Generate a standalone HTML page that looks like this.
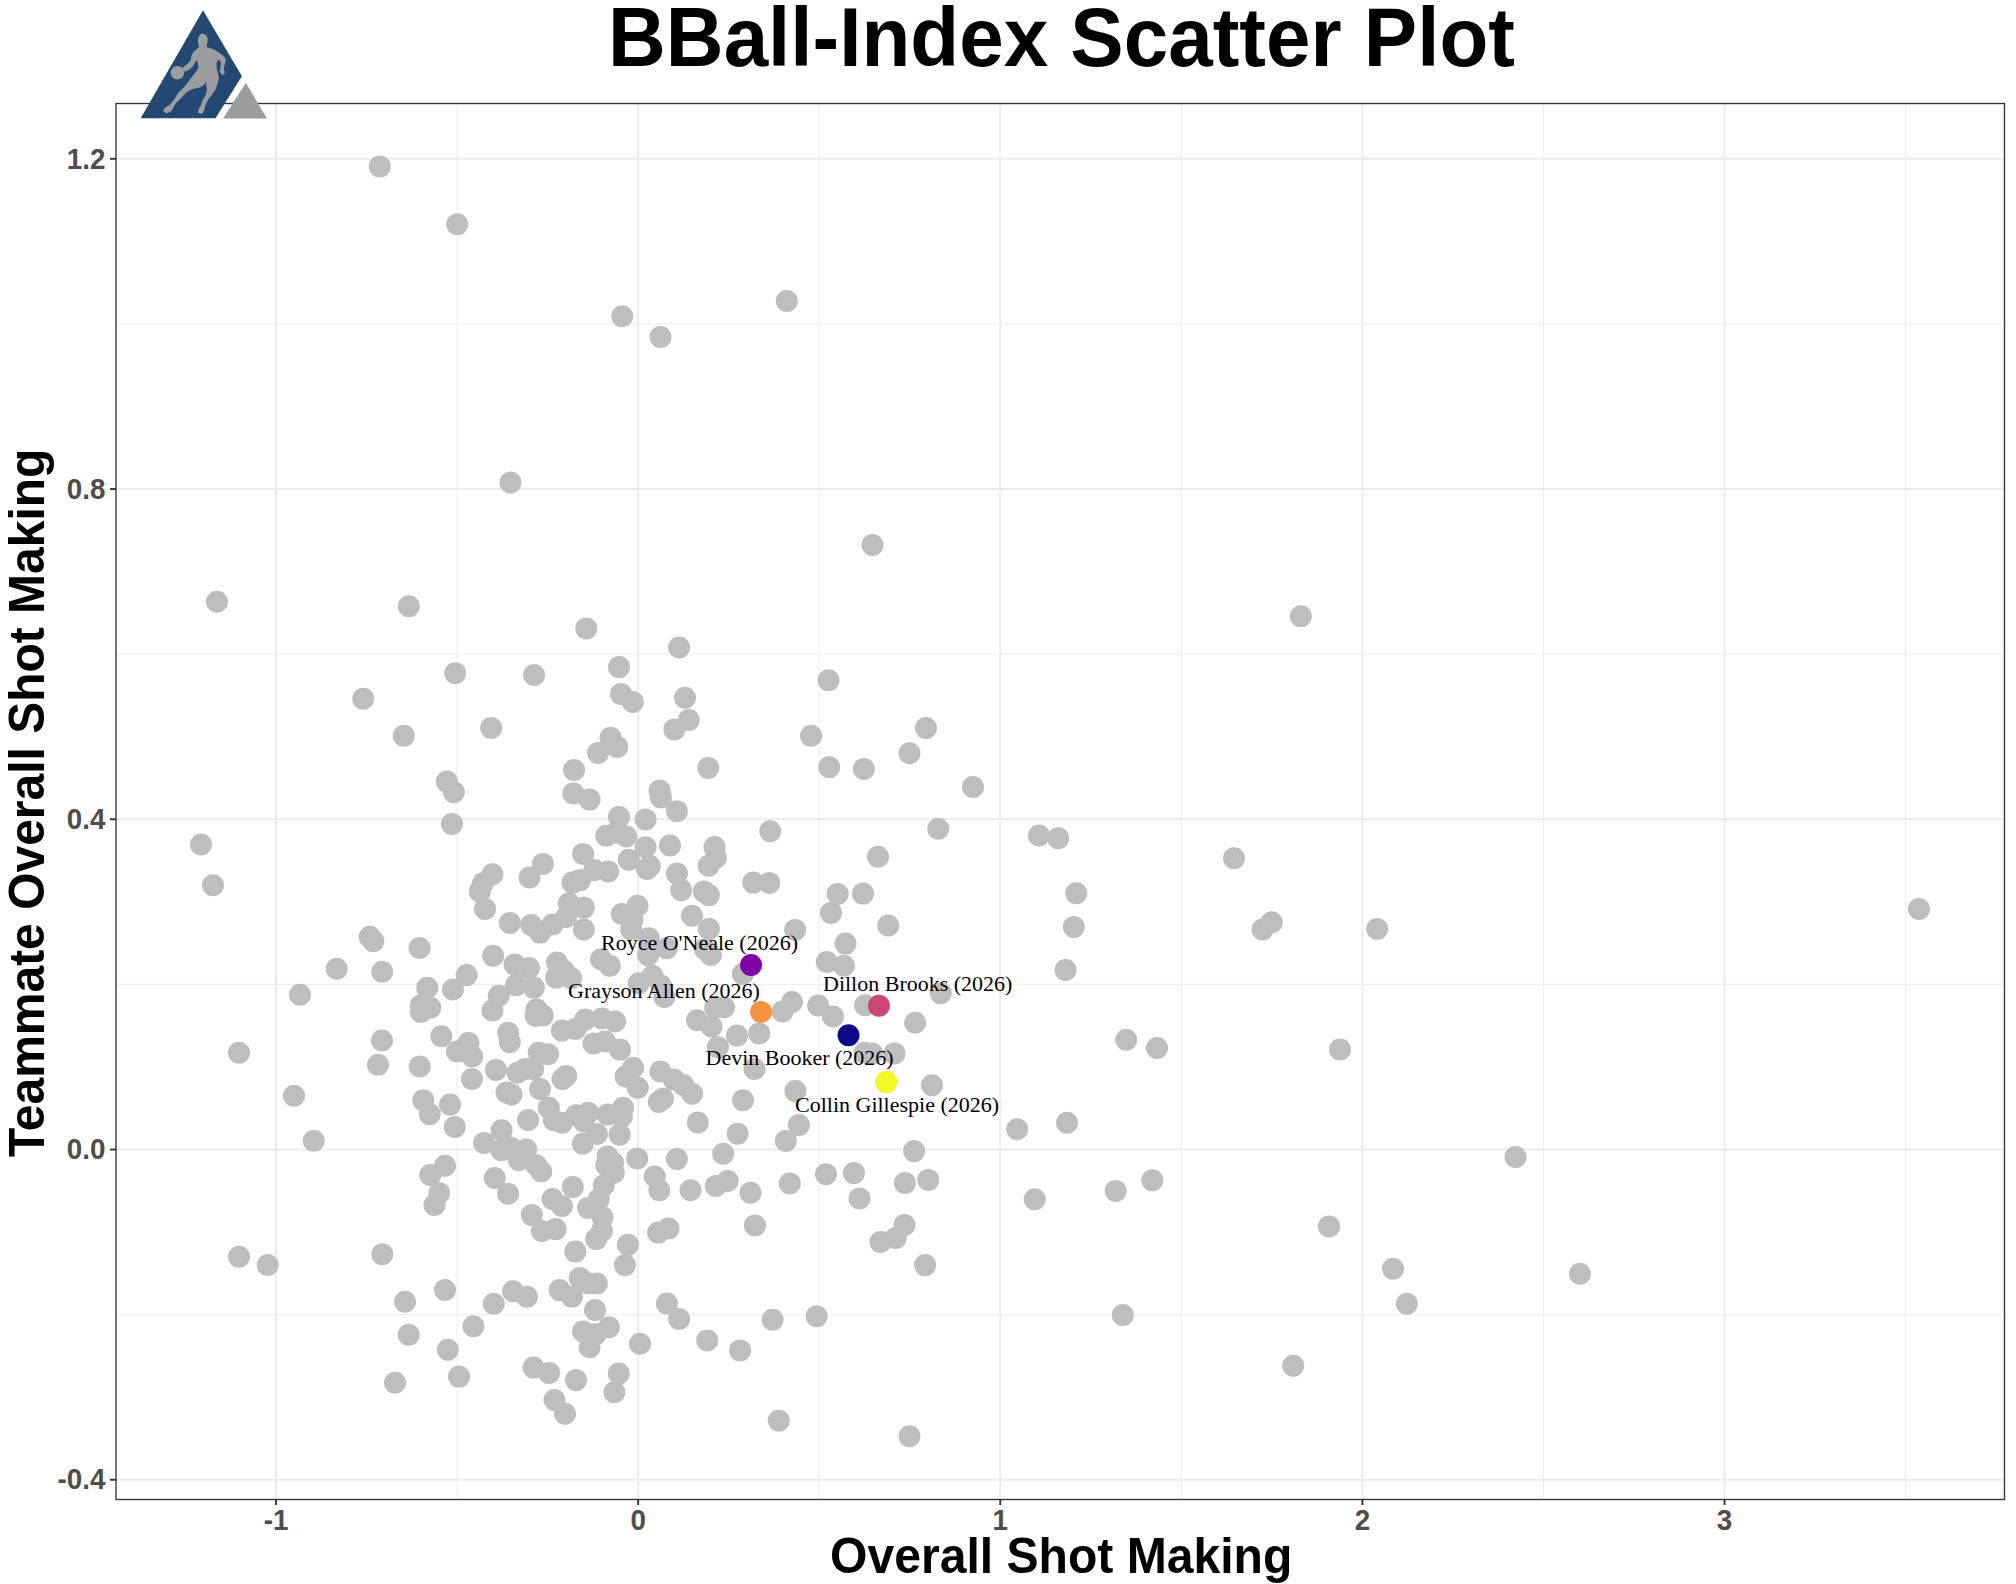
<!DOCTYPE html><html><head><meta charset="utf-8"><title>BBall-Index Scatter Plot</title>
<style>html,body{margin:0;padding:0;background:#fff}svg{display:block}.t{font-family:"Liberation Sans",Arial,sans-serif;font-weight:bold}.s{font-family:"Liberation Serif","Times New Roman",serif;font-size:22px;fill:#000}.k{font-family:"Liberation Sans",Arial,sans-serif;font-weight:bold;font-size:27.8px;fill:#4D4D4D}</style></head><body>
<svg width="2016" height="1584" viewBox="0 0 2016 1584">
<rect width="2016" height="1584" fill="#fff"/>
<g stroke="#EBEBEB" fill="none">
<line x1="457.06" x2="457.06" y1="103.5" y2="1499.5" stroke-width="0.95"/>
<line x1="819.19" x2="819.19" y1="103.5" y2="1499.5" stroke-width="0.95"/>
<line x1="1181.32" x2="1181.32" y1="103.5" y2="1499.5" stroke-width="0.95"/>
<line x1="1543.45" x2="1543.45" y1="103.5" y2="1499.5" stroke-width="0.95"/>
<line x1="1905.59" x2="1905.59" y1="103.5" y2="1499.5" stroke-width="0.95"/>
<line y1="323.92" y2="323.92" x1="116.0" x2="2004.5" stroke-width="0.95"/>
<line y1="654.16" y2="654.16" x1="116.0" x2="2004.5" stroke-width="0.95"/>
<line y1="984.40" y2="984.40" x1="116.0" x2="2004.5" stroke-width="0.95"/>
<line y1="1314.64" y2="1314.64" x1="116.0" x2="2004.5" stroke-width="0.95"/>
<line x1="276.00" x2="276.00" y1="103.5" y2="1499.5" stroke-width="1.9"/>
<line x1="638.13" x2="638.13" y1="103.5" y2="1499.5" stroke-width="1.9"/>
<line x1="1000.26" x2="1000.26" y1="103.5" y2="1499.5" stroke-width="1.9"/>
<line x1="1362.39" x2="1362.39" y1="103.5" y2="1499.5" stroke-width="1.9"/>
<line x1="1724.52" x2="1724.52" y1="103.5" y2="1499.5" stroke-width="1.9"/>
<line y1="158.80" y2="158.80" x1="116.0" x2="2004.5" stroke-width="1.9"/>
<line y1="489.04" y2="489.04" x1="116.0" x2="2004.5" stroke-width="1.9"/>
<line y1="819.28" y2="819.28" x1="116.0" x2="2004.5" stroke-width="1.9"/>
<line y1="1149.52" y2="1149.52" x1="116.0" x2="2004.5" stroke-width="1.9"/>
<line y1="1479.76" y2="1479.76" x1="116.0" x2="2004.5" stroke-width="1.9"/>
</g>
<g fill="#BEBEBE">
<circle cx="379.8" cy="166.5" r="11"/>
<circle cx="457.2" cy="224.2" r="11"/>
<circle cx="510.5" cy="482.5" r="11"/>
<circle cx="622.2" cy="316.2" r="11"/>
<circle cx="660.5" cy="337.0" r="11"/>
<circle cx="786.8" cy="301.0" r="11"/>
<circle cx="217.0" cy="601.8" r="11"/>
<circle cx="408.8" cy="606.2" r="11"/>
<circle cx="586.2" cy="628.4" r="11"/>
<circle cx="455.2" cy="673.2" r="11"/>
<circle cx="534.1" cy="675.0" r="11"/>
<circle cx="363.2" cy="698.8" r="11"/>
<circle cx="403.8" cy="735.8" r="11"/>
<circle cx="491.2" cy="728.0" r="11"/>
<circle cx="446.9" cy="781.6" r="11"/>
<circle cx="453.8" cy="792.1" r="11"/>
<circle cx="452.0" cy="824.0" r="11"/>
<circle cx="574.1" cy="770.0" r="11"/>
<circle cx="573.4" cy="793.4" r="11"/>
<circle cx="589.6" cy="799.6" r="11"/>
<circle cx="598.1" cy="752.9" r="11"/>
<circle cx="610.6" cy="737.8" r="11"/>
<circle cx="201.0" cy="844.5" r="11"/>
<circle cx="213.0" cy="885.2" r="11"/>
<circle cx="679.1" cy="647.5" r="11"/>
<circle cx="619.0" cy="667.1" r="11"/>
<circle cx="621.0" cy="693.9" r="11"/>
<circle cx="632.8" cy="701.9" r="11"/>
<circle cx="685.0" cy="697.8" r="11"/>
<circle cx="617.2" cy="746.9" r="11"/>
<circle cx="674.4" cy="729.4" r="11"/>
<circle cx="688.8" cy="720.0" r="11"/>
<circle cx="659.6" cy="790.6" r="11"/>
<circle cx="661.0" cy="797.5" r="11"/>
<circle cx="676.9" cy="811.2" r="11"/>
<circle cx="619.0" cy="816.9" r="11"/>
<circle cx="645.6" cy="819.4" r="11"/>
<circle cx="872.5" cy="545.0" r="11"/>
<circle cx="828.5" cy="680.2" r="11"/>
<circle cx="811.0" cy="735.8" r="11"/>
<circle cx="926.0" cy="728.0" r="11"/>
<circle cx="909.5" cy="753.2" r="11"/>
<circle cx="829.2" cy="767.2" r="11"/>
<circle cx="863.8" cy="769.0" r="11"/>
<circle cx="708.2" cy="768.0" r="11"/>
<circle cx="973.0" cy="787.0" r="11"/>
<circle cx="770.2" cy="831.2" r="11"/>
<circle cx="938.2" cy="828.8" r="11"/>
<circle cx="1039.0" cy="835.5" r="11"/>
<circle cx="1058.2" cy="838.2" r="11"/>
<circle cx="878.0" cy="856.8" r="11"/>
<circle cx="1300.8" cy="616.2" r="11"/>
<circle cx="1234.0" cy="858.2" r="11"/>
<circle cx="606.2" cy="835.8" r="11"/>
<circle cx="626.2" cy="836.4" r="11"/>
<circle cx="645.6" cy="847.2" r="11"/>
<circle cx="670.0" cy="845.5" r="11"/>
<circle cx="628.8" cy="859.8" r="11"/>
<circle cx="583.1" cy="853.9" r="11"/>
<circle cx="649.8" cy="866.0" r="11"/>
<circle cx="646.9" cy="868.9" r="11"/>
<circle cx="676.9" cy="873.6" r="11"/>
<circle cx="681.2" cy="890.1" r="11"/>
<circle cx="542.9" cy="863.9" r="11"/>
<circle cx="529.5" cy="877.5" r="11"/>
<circle cx="492.5" cy="874.2" r="11"/>
<circle cx="483.1" cy="883.2" r="11"/>
<circle cx="479.8" cy="891.4" r="11"/>
<circle cx="485.0" cy="908.9" r="11"/>
<circle cx="594.4" cy="870.1" r="11"/>
<circle cx="608.1" cy="871.4" r="11"/>
<circle cx="580.0" cy="880.1" r="11"/>
<circle cx="572.5" cy="882.6" r="11"/>
<circle cx="568.8" cy="903.2" r="11"/>
<circle cx="583.8" cy="907.6" r="11"/>
<circle cx="583.8" cy="929.5" r="11"/>
<circle cx="566.2" cy="917.0" r="11"/>
<circle cx="552.5" cy="924.5" r="11"/>
<circle cx="540.0" cy="932.6" r="11"/>
<circle cx="531.2" cy="925.1" r="11"/>
<circle cx="509.8" cy="922.9" r="11"/>
<circle cx="637.5" cy="905.8" r="11"/>
<circle cx="621.9" cy="913.9" r="11"/>
<circle cx="632.5" cy="919.5" r="11"/>
<circle cx="631.2" cy="929.5" r="11"/>
<circle cx="648.8" cy="938.2" r="11"/>
<circle cx="692.0" cy="915.8" r="11"/>
<circle cx="493.1" cy="955.8" r="11"/>
<circle cx="514.6" cy="964.5" r="11"/>
<circle cx="529.0" cy="968.0" r="11"/>
<circle cx="516.0" cy="985.1" r="11"/>
<circle cx="533.8" cy="987.6" r="11"/>
<circle cx="556.9" cy="962.6" r="11"/>
<circle cx="563.8" cy="970.8" r="11"/>
<circle cx="556.2" cy="977.6" r="11"/>
<circle cx="571.2" cy="978.2" r="11"/>
<circle cx="466.6" cy="975.1" r="11"/>
<circle cx="452.9" cy="989.5" r="11"/>
<circle cx="498.8" cy="995.8" r="11"/>
<circle cx="601.0" cy="959.2" r="11"/>
<circle cx="609.8" cy="965.8" r="11"/>
<circle cx="648.1" cy="955.1" r="11"/>
<circle cx="666.9" cy="948.2" r="11"/>
<circle cx="652.5" cy="975.8" r="11"/>
<circle cx="638.8" cy="983.2" r="11"/>
<circle cx="661.2" cy="985.8" r="11"/>
<circle cx="664.4" cy="997.0" r="11"/>
<circle cx="714.5" cy="847.0" r="11"/>
<circle cx="715.8" cy="857.6" r="11"/>
<circle cx="708.6" cy="865.8" r="11"/>
<circle cx="753.2" cy="882.6" r="11"/>
<circle cx="769.2" cy="882.9" r="11"/>
<circle cx="703.9" cy="891.4" r="11"/>
<circle cx="708.9" cy="895.1" r="11"/>
<circle cx="837.6" cy="893.9" r="11"/>
<circle cx="863.0" cy="893.6" r="11"/>
<circle cx="831.0" cy="912.9" r="11"/>
<circle cx="708.9" cy="928.9" r="11"/>
<circle cx="795.1" cy="929.9" r="11"/>
<circle cx="888.2" cy="925.5" r="11"/>
<circle cx="845.5" cy="943.6" r="11"/>
<circle cx="826.8" cy="962.0" r="11"/>
<circle cx="843.9" cy="965.8" r="11"/>
<circle cx="705.0" cy="949.2" r="11"/>
<circle cx="710.8" cy="955.0" r="11"/>
<circle cx="742.8" cy="974.0" r="11"/>
<circle cx="940.8" cy="993.2" r="11"/>
<circle cx="818.2" cy="1005.5" r="11"/>
<circle cx="792.0" cy="1002.0" r="11"/>
<circle cx="782.6" cy="1011.5" r="11"/>
<circle cx="715.2" cy="1007.5" r="11"/>
<circle cx="724.0" cy="1007.5" r="11"/>
<circle cx="865.1" cy="1005.2" r="11"/>
<circle cx="369.7" cy="936.7" r="11"/>
<circle cx="373.3" cy="941.3" r="11"/>
<circle cx="419.5" cy="948.0" r="11"/>
<circle cx="336.7" cy="968.8" r="11"/>
<circle cx="382.2" cy="971.8" r="11"/>
<circle cx="300.0" cy="994.7" r="11"/>
<circle cx="427.2" cy="987.7" r="11"/>
<circle cx="420.8" cy="1005.3" r="11"/>
<circle cx="430.3" cy="1007.8" r="11"/>
<circle cx="420.8" cy="1012.0" r="11"/>
<circle cx="441.3" cy="1036.3" r="11"/>
<circle cx="382.0" cy="1040.5" r="11"/>
<circle cx="239.0" cy="1052.7" r="11"/>
<circle cx="378.0" cy="1064.7" r="11"/>
<circle cx="419.7" cy="1066.5" r="11"/>
<circle cx="294.0" cy="1095.7" r="11"/>
<circle cx="423.3" cy="1100.3" r="11"/>
<circle cx="429.7" cy="1114.2" r="11"/>
<circle cx="313.7" cy="1140.7" r="11"/>
<circle cx="239.0" cy="1256.7" r="11"/>
<circle cx="267.7" cy="1265.0" r="11"/>
<circle cx="382.3" cy="1254.3" r="11"/>
<circle cx="405.0" cy="1301.8" r="11"/>
<circle cx="408.7" cy="1334.8" r="11"/>
<circle cx="395.0" cy="1382.8" r="11"/>
<circle cx="430.3" cy="1175.0" r="11"/>
<circle cx="445.0" cy="1165.8" r="11"/>
<circle cx="439.2" cy="1193.3" r="11"/>
<circle cx="434.5" cy="1205.0" r="11"/>
<circle cx="445.0" cy="1290.0" r="11"/>
<circle cx="447.8" cy="1349.8" r="11"/>
<circle cx="492.5" cy="1010.5" r="11"/>
<circle cx="535.6" cy="1015.9" r="11"/>
<circle cx="542.8" cy="1015.5" r="11"/>
<circle cx="561.9" cy="1030.6" r="11"/>
<circle cx="575.6" cy="1029.0" r="11"/>
<circle cx="585.0" cy="1019.6" r="11"/>
<circle cx="601.9" cy="1018.4" r="11"/>
<circle cx="615.0" cy="1021.5" r="11"/>
<circle cx="508.1" cy="1032.8" r="11"/>
<circle cx="509.8" cy="1042.1" r="11"/>
<circle cx="456.9" cy="1051.5" r="11"/>
<circle cx="468.5" cy="1043.0" r="11"/>
<circle cx="472.2" cy="1056.5" r="11"/>
<circle cx="471.9" cy="1079.0" r="11"/>
<circle cx="496.0" cy="1069.9" r="11"/>
<circle cx="538.8" cy="1052.8" r="11"/>
<circle cx="548.1" cy="1054.2" r="11"/>
<circle cx="593.5" cy="1043.4" r="11"/>
<circle cx="605.0" cy="1041.5" r="11"/>
<circle cx="620.0" cy="1049.6" r="11"/>
<circle cx="517.5" cy="1072.8" r="11"/>
<circle cx="525.0" cy="1069.0" r="11"/>
<circle cx="533.1" cy="1069.0" r="11"/>
<circle cx="566.2" cy="1075.9" r="11"/>
<circle cx="562.5" cy="1079.0" r="11"/>
<circle cx="506.5" cy="1092.5" r="11"/>
<circle cx="511.5" cy="1094.5" r="11"/>
<circle cx="616.5" cy="832.6" r="11"/>
<circle cx="536.5" cy="1009.5" r="11"/>
<circle cx="540.0" cy="1089.0" r="11"/>
<circle cx="633.1" cy="1067.8" r="11"/>
<circle cx="625.6" cy="1076.5" r="11"/>
<circle cx="637.8" cy="1087.8" r="11"/>
<circle cx="660.4" cy="1071.5" r="11"/>
<circle cx="673.8" cy="1079.6" r="11"/>
<circle cx="683.3" cy="1085.0" r="11"/>
<circle cx="692.1" cy="1093.8" r="11"/>
<circle cx="662.9" cy="1098.8" r="11"/>
<circle cx="658.8" cy="1102.0" r="11"/>
<circle cx="450.0" cy="1104.6" r="11"/>
<circle cx="454.8" cy="1126.9" r="11"/>
<circle cx="548.8" cy="1107.8" r="11"/>
<circle cx="553.8" cy="1120.2" r="11"/>
<circle cx="561.9" cy="1122.8" r="11"/>
<circle cx="576.2" cy="1115.2" r="11"/>
<circle cx="588.1" cy="1112.8" r="11"/>
<circle cx="583.8" cy="1121.5" r="11"/>
<circle cx="607.5" cy="1114.6" r="11"/>
<circle cx="623.1" cy="1107.8" r="11"/>
<circle cx="621.9" cy="1116.5" r="11"/>
<circle cx="528.1" cy="1120.0" r="11"/>
<circle cx="596.9" cy="1134.0" r="11"/>
<circle cx="619.6" cy="1134.6" r="11"/>
<circle cx="582.8" cy="1143.8" r="11"/>
<circle cx="501.6" cy="1130.2" r="11"/>
<circle cx="484.0" cy="1143.0" r="11"/>
<circle cx="501.2" cy="1150.2" r="11"/>
<circle cx="511.2" cy="1147.8" r="11"/>
<circle cx="526.2" cy="1149.6" r="11"/>
<circle cx="518.8" cy="1160.2" r="11"/>
<circle cx="536.2" cy="1165.2" r="11"/>
<circle cx="541.2" cy="1171.5" r="11"/>
<circle cx="607.5" cy="1156.5" r="11"/>
<circle cx="613.1" cy="1162.8" r="11"/>
<circle cx="606.2" cy="1165.2" r="11"/>
<circle cx="613.8" cy="1172.8" r="11"/>
<circle cx="603.8" cy="1185.2" r="11"/>
<circle cx="637.2" cy="1158.4" r="11"/>
<circle cx="676.9" cy="1159.0" r="11"/>
<circle cx="654.8" cy="1176.5" r="11"/>
<circle cx="659.4" cy="1190.2" r="11"/>
<circle cx="690.5" cy="1190.2" r="11"/>
<circle cx="494.8" cy="1178.0" r="11"/>
<circle cx="508.1" cy="1193.8" r="11"/>
<circle cx="572.8" cy="1186.9" r="11"/>
<circle cx="552.5" cy="1199.0" r="11"/>
<circle cx="598.8" cy="1199.0" r="11"/>
<circle cx="915.1" cy="1022.8" r="11"/>
<circle cx="833.0" cy="1016.5" r="11"/>
<circle cx="697.0" cy="1020.2" r="11"/>
<circle cx="711.5" cy="1026.5" r="11"/>
<circle cx="737.0" cy="1035.6" r="11"/>
<circle cx="759.2" cy="1033.4" r="11"/>
<circle cx="717.9" cy="1047.1" r="11"/>
<circle cx="754.5" cy="1069.0" r="11"/>
<circle cx="864.5" cy="1052.8" r="11"/>
<circle cx="872.0" cy="1053.4" r="11"/>
<circle cx="894.5" cy="1053.4" r="11"/>
<circle cx="932.0" cy="1085.2" r="11"/>
<circle cx="795.4" cy="1091.1" r="11"/>
<circle cx="743.0" cy="1100.2" r="11"/>
<circle cx="697.8" cy="1122.4" r="11"/>
<circle cx="737.6" cy="1133.8" r="11"/>
<circle cx="798.9" cy="1125.0" r="11"/>
<circle cx="785.8" cy="1140.9" r="11"/>
<circle cx="723.2" cy="1153.8" r="11"/>
<circle cx="914.1" cy="1151.1" r="11"/>
<circle cx="826.0" cy="1174.2" r="11"/>
<circle cx="853.9" cy="1173.1" r="11"/>
<circle cx="904.9" cy="1183.0" r="11"/>
<circle cx="928.2" cy="1179.9" r="11"/>
<circle cx="859.5" cy="1198.4" r="11"/>
<circle cx="789.8" cy="1183.4" r="11"/>
<circle cx="727.6" cy="1180.9" r="11"/>
<circle cx="715.8" cy="1185.9" r="11"/>
<circle cx="750.5" cy="1192.8" r="11"/>
<circle cx="531.9" cy="1215.1" r="11"/>
<circle cx="561.9" cy="1206.0" r="11"/>
<circle cx="541.9" cy="1231.0" r="11"/>
<circle cx="555.6" cy="1229.1" r="11"/>
<circle cx="588.1" cy="1207.9" r="11"/>
<circle cx="602.5" cy="1217.2" r="11"/>
<circle cx="601.9" cy="1231.0" r="11"/>
<circle cx="596.2" cy="1239.1" r="11"/>
<circle cx="575.4" cy="1251.6" r="11"/>
<circle cx="627.9" cy="1244.8" r="11"/>
<circle cx="625.0" cy="1265.1" r="11"/>
<circle cx="658.1" cy="1232.6" r="11"/>
<circle cx="668.5" cy="1228.5" r="11"/>
<circle cx="493.8" cy="1303.8" r="11"/>
<circle cx="513.1" cy="1291.2" r="11"/>
<circle cx="526.9" cy="1296.8" r="11"/>
<circle cx="559.6" cy="1290.1" r="11"/>
<circle cx="571.9" cy="1296.6" r="11"/>
<circle cx="579.8" cy="1277.9" r="11"/>
<circle cx="588.8" cy="1283.5" r="11"/>
<circle cx="596.9" cy="1283.5" r="11"/>
<circle cx="595.0" cy="1310.0" r="11"/>
<circle cx="608.8" cy="1327.2" r="11"/>
<circle cx="583.1" cy="1331.4" r="11"/>
<circle cx="595.6" cy="1334.1" r="11"/>
<circle cx="589.6" cy="1347.2" r="11"/>
<circle cx="473.4" cy="1326.2" r="11"/>
<circle cx="459.0" cy="1376.6" r="11"/>
<circle cx="640.0" cy="1343.8" r="11"/>
<circle cx="666.9" cy="1303.5" r="11"/>
<circle cx="679.1" cy="1318.9" r="11"/>
<circle cx="533.5" cy="1367.6" r="11"/>
<circle cx="549.0" cy="1372.9" r="11"/>
<circle cx="576.0" cy="1380.1" r="11"/>
<circle cx="618.8" cy="1373.5" r="11"/>
<circle cx="614.4" cy="1392.2" r="11"/>
<circle cx="554.5" cy="1400.0" r="11"/>
<circle cx="565.0" cy="1413.7" r="11"/>
<circle cx="754.9" cy="1225.4" r="11"/>
<circle cx="904.5" cy="1225.0" r="11"/>
<circle cx="895.8" cy="1237.9" r="11"/>
<circle cx="880.5" cy="1242.0" r="11"/>
<circle cx="925.1" cy="1265.1" r="11"/>
<circle cx="772.6" cy="1319.8" r="11"/>
<circle cx="816.6" cy="1316.2" r="11"/>
<circle cx="707.2" cy="1340.4" r="11"/>
<circle cx="740.1" cy="1350.4" r="11"/>
<circle cx="778.8" cy="1420.7" r="11"/>
<circle cx="909.5" cy="1436.3" r="11"/>
<circle cx="1076.3" cy="893.3" r="11"/>
<circle cx="1073.8" cy="927.0" r="11"/>
<circle cx="1065.5" cy="970.0" r="11"/>
<circle cx="1126.2" cy="1039.7" r="11"/>
<circle cx="1157.0" cy="1048.0" r="11"/>
<circle cx="1017.2" cy="1129.2" r="11"/>
<circle cx="1067.0" cy="1122.7" r="11"/>
<circle cx="1034.7" cy="1199.3" r="11"/>
<circle cx="1115.7" cy="1191.0" r="11"/>
<circle cx="1152.3" cy="1180.3" r="11"/>
<circle cx="1122.8" cy="1315.0" r="11"/>
<circle cx="1271.8" cy="922.2" r="11"/>
<circle cx="1262.5" cy="929.5" r="11"/>
<circle cx="1377.2" cy="929.0" r="11"/>
<circle cx="1340.0" cy="1049.5" r="11"/>
<circle cx="1515.5" cy="1157.0" r="11"/>
<circle cx="1329.0" cy="1226.4" r="11"/>
<circle cx="1393.0" cy="1268.8" r="11"/>
<circle cx="1580.0" cy="1273.8" r="11"/>
<circle cx="1406.8" cy="1303.8" r="11"/>
<circle cx="1293.2" cy="1365.8" r="11"/>
<circle cx="1919.0" cy="909.0" r="11"/>
</g>
<circle cx="848.5" cy="1035.2" r="11" fill="#0D0887"/>
<circle cx="751.0" cy="965.0" r="11" fill="#7E03A8"/>
<circle cx="878.9" cy="1005.8" r="11" fill="#CC4678"/>
<circle cx="761.0" cy="1012.0" r="11" fill="#F89441"/>
<circle cx="886.0" cy="1082.1" r="11" fill="#F0F921"/>
<text class="s" x="601" y="950.3">Royce O'Neale (2026)</text>
<text class="s" x="568" y="997.8">Grayson Allen (2026)</text>
<text class="s" x="823" y="990.8">Dillon Brooks (2026)</text>
<text class="s" x="705.5" y="1064.9">Devin Booker (2026)</text>
<text class="s" x="795" y="1111.8">Collin Gillespie (2026)</text>
<rect x="116.0" y="103.5" width="1888.5" height="1396.0" fill="none" stroke="#333" stroke-width="1.35"/>
<g stroke="#333" stroke-width="1.9">
<line x1="276.00" x2="276.00" y1="1499.5" y2="1505.0"/>
<line x1="638.13" x2="638.13" y1="1499.5" y2="1505.0"/>
<line x1="1000.26" x2="1000.26" y1="1499.5" y2="1505.0"/>
<line x1="1362.39" x2="1362.39" y1="1499.5" y2="1505.0"/>
<line x1="1724.52" x2="1724.52" y1="1499.5" y2="1505.0"/>
<line y1="158.80" y2="158.80" x1="110.0" x2="116.0"/>
<line y1="489.04" y2="489.04" x1="110.0" x2="116.0"/>
<line y1="819.28" y2="819.28" x1="110.0" x2="116.0"/>
<line y1="1149.52" y2="1149.52" x1="110.0" x2="116.0"/>
<line y1="1479.76" y2="1479.76" x1="110.0" x2="116.0"/>
</g>
<text class="k" text-anchor="middle" transform="translate(276.00,1529.9) scale(1,1.05)">-1</text>
<text class="k" text-anchor="middle" transform="translate(638.13,1529.9) scale(1,1.05)">0</text>
<text class="k" text-anchor="middle" transform="translate(1000.26,1529.9) scale(1,1.05)">1</text>
<text class="k" text-anchor="middle" transform="translate(1362.39,1529.9) scale(1,1.05)">2</text>
<text class="k" text-anchor="middle" transform="translate(1724.52,1529.9) scale(1,1.05)">3</text>
<text class="k" text-anchor="end" transform="translate(105.4,168.50) scale(1,1.05)">1.2</text>
<text class="k" text-anchor="end" transform="translate(105.4,498.74) scale(1,1.05)">0.8</text>
<text class="k" text-anchor="end" transform="translate(105.4,828.98) scale(1,1.05)">0.4</text>
<text class="k" text-anchor="end" transform="translate(105.4,1159.22) scale(1,1.05)">0.0</text>
<text class="k" text-anchor="end" transform="translate(105.4,1489.46) scale(1,1.05)">-0.4</text>
<text class="t" font-size="80" transform="translate(1061.5,66.3) scale(1,1.035)" text-anchor="middle">BBall-Index Scatter Plot</text>
<text class="t" font-size="48.1" transform="translate(1061.2,1573) scale(1,1.03)" text-anchor="middle">Overall Shot Making</text>
<text class="t" font-size="48" transform="translate(44.1,802.8) rotate(-90) scale(1,1.035)" text-anchor="middle">Teammate Overall Shot Making</text>
<g transform="translate(130,0) scale(0.07891)">
<polygon points="925,130 1418,965 1083,1498 135,1498" fill="#234873"/>
<polygon points="1468,1050 1735,1503 1180,1503" fill="#9C9D9F"/>
<g fill="#9C9D9F"><circle cx="600" cy="922" r="86"/>
<path d="M920,428 C955,430 980,455 985,500 C988,540 975,560 970,575 L975,600 C1010,610 1040,615 1060,625 L1130,670 L1195,715 C1212,735 1212,760 1208,790 L1192,855 L1186,880 L1202,915 L1190,948 L1160,940 L1135,905 L1148,860 L1152,780 L1112,758 L1096,800 L1100,880 L1120,940 L1126,990 L1110,1060 L1080,1140 L1040,1200 L990,1262 L960,1320 L942,1390 L925,1432 L890,1446 L862,1422 L870,1380 L900,1330 L920,1270 L962,1200 L974,1130 L966,1080 L968,1040 L930,1082 L880,1110 L780,1130 L712,1172 L640,1252 L582,1310 L546,1370 L522,1410 L462,1434 L418,1402 L440,1370 L500,1330 L560,1260 L610,1180 L660,1130 L720,1060 L790,970 L850,890 L870,850 L852,770 L836,766 L820,802 L790,850 L745,886 L686,910 L660,862 L728,810 L768,762 L780,700 L810,652 L860,612 L876,590 L862,540 C855,500 862,470 885,442 C895,432 905,428 920,428 Z"/></g>
</g>
</svg></body></html>
